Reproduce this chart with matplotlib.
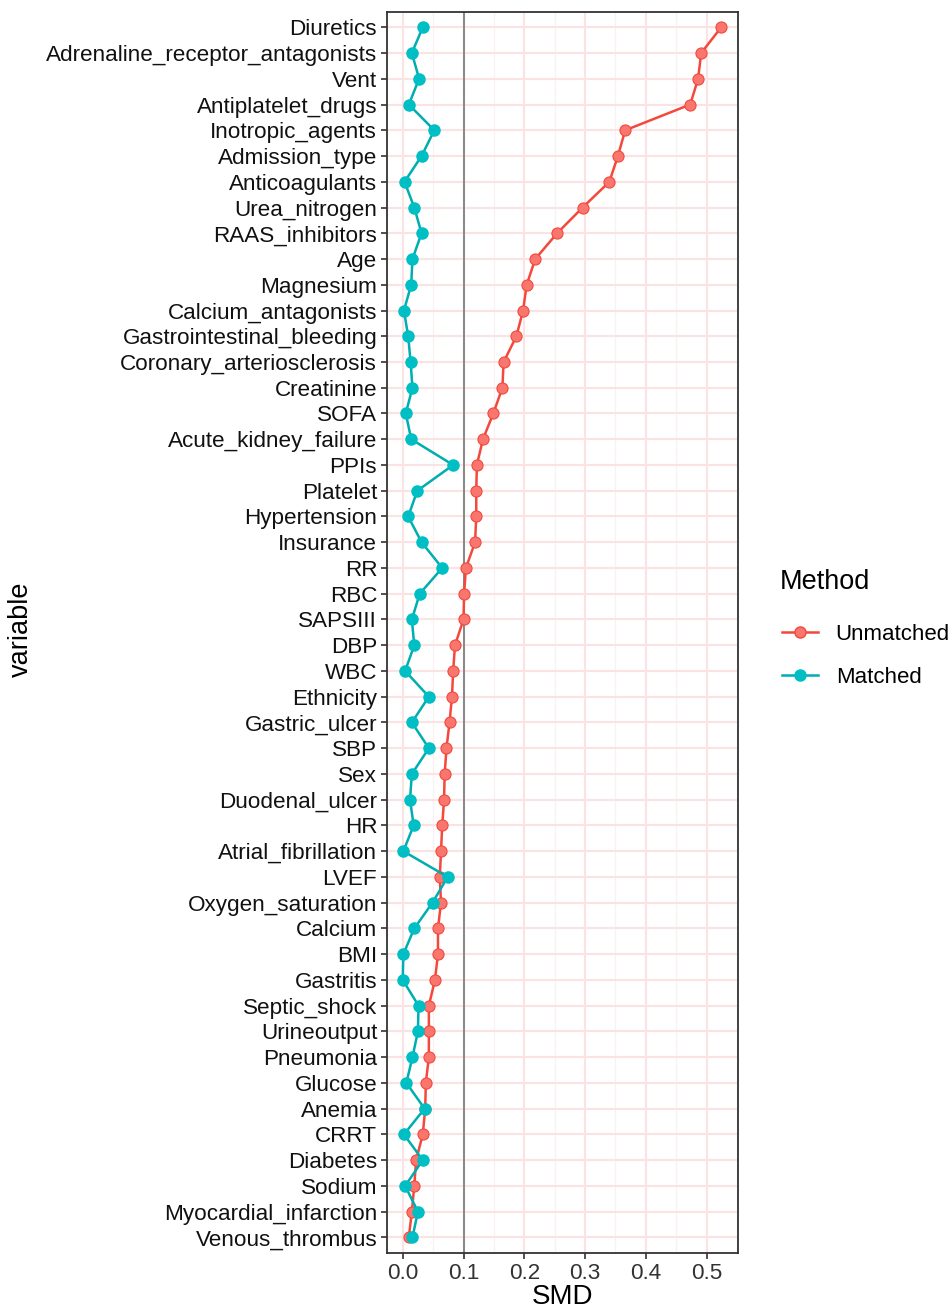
import matplotlib.pyplot as plt
from matplotlib.lines import Line2D
import numpy as np

plt.rcParams['font.family'] = ['Liberation Sans', 'DejaVu Sans']

# variables, top to bottom
variables = ["Diuretics", "Adrenaline_receptor_antagonists", "Vent", "Antiplatelet_drugs",
             "Inotropic_agents", "Admission_type", "Anticoagulants", "Urea_nitrogen",
             "RAAS_inhibitors", "Age", "Magnesium", "Calcium_antagonists",
             "Gastrointestinal_bleeding", "Coronary_arteriosclerosis", "Creatinine", "SOFA",
             "Acute_kidney_failure", "PPIs", "Platelet", "Hypertension", "Insurance", "RR",
             "RBC", "SAPSIII", "DBP", "WBC", "Ethnicity", "Gastric_ulcer", "SBP", "Sex",
             "Duodenal_ulcer", "HR", "Atrial_fibrillation", "LVEF", "Oxygen_saturation",
             "Calcium", "BMI", "Gastritis", "Septic_shock", "Urineoutput", "Pneumonia",
             "Glucose", "Anemia", "CRRT", "Diabetes", "Sodium", "Myocardial_infarction",
             "Venous_thrombus"]

unmatched = [0.524, 0.491, 0.486, 0.473, 0.366, 0.354, 0.340, 0.296, 0.254, 0.218,
             0.204, 0.198, 0.187, 0.166, 0.164, 0.149, 0.132, 0.122, 0.121, 0.121,
             0.119, 0.104, 0.101, 0.100, 0.086, 0.083, 0.081, 0.077, 0.072, 0.069,
             0.068, 0.065, 0.063, 0.061, 0.063, 0.058, 0.058, 0.053, 0.043, 0.043,
             0.043, 0.038, 0.037, 0.033, 0.022, 0.019, 0.015, 0.010]

matched = [0.033, 0.015, 0.027, 0.010, 0.052, 0.031, 0.003, 0.019, 0.031, 0.016,
           0.014, 0.002, 0.009, 0.013, 0.016, 0.005, 0.014, 0.083, 0.024, 0.009,
           0.031, 0.065, 0.028, 0.015, 0.019, 0.004, 0.043, 0.015, 0.043, 0.015,
           0.012, 0.018, 0.001, 0.074, 0.049, 0.019, 0.001, 0.000, 0.026, 0.025,
           0.016, 0.006, 0.036, 0.002, 0.033, 0.004, 0.025, 0.016]

red = '#F8766D'
red_line = '#F4483C'
teal = '#00BFC4'
teal_line = '#00ADB0'

fig = plt.figure(figsize=(9.53, 13.16), dpi=100)
ax = fig.add_axes([0.406, 0.048, 0.368, 0.943])

y = np.arange(len(variables))[::-1]

# grid
for v in np.arange(0, 0.56, 0.05):
    major = round(v * 100) % 10 == 0
    ax.axvline(v, color='#FBE3E3' if major else '#FDF0F0', lw=1.5 if major else 0.9, zorder=0)
for yy in y:
    ax.axhline(yy, color='#FBE3E3', lw=1.5, zorder=0)

ax.axvline(0.1, color='#7f7f7f', lw=1.3, zorder=1)

ax.plot(unmatched, y, color=red_line, lw=1.8, marker='o', ms=8, mfc=red, mec=red_line, mew=0.8, zorder=3)
ax.plot(matched, y, color=teal_line, lw=1.8, marker='o', ms=8, mfc=teal, mec=teal, zorder=4)

ax.set_xlim(-0.026, 0.551)
ax.set_ylim(-0.6, len(variables) - 0.4)
ax.set_yticks(y)
ax.set_yticklabels(variables, fontsize=16.2)
ax.set_xticks([0.0, 0.1, 0.2, 0.3, 0.4, 0.5])
ax.set_xticklabels(['0.0', '0.1', '0.2', '0.3', '0.4', '0.5'], fontsize=16.2, color='#333333')
ax.tick_params(axis='both', length=4, width=1.2, color='#333333', pad=3)
ax.tick_params(axis='y', labelcolor='#111111')
for s in ax.spines.values():
    s.set_color('#333333')
    s.set_linewidth(1.3)

ax.set_xlabel('SMD', fontsize=20, labelpad=0)
fig.text(0.022, 0.522, 'variable', rotation=90, fontsize=19.5, va='center', ha='center')

# legend
fig.text(0.8185, 0.5578, 'Method', fontsize=19.5, va='center', ha='left')
handles = [Line2D([0], [0], color=red_line, lw=1.8, marker='o', ms=8, mfc=red, mec=red_line),
           Line2D([0], [0], color=teal_line, lw=1.8, marker='o', ms=8, mfc=teal, mec=teal)]
leg = fig.legend(handles, ['Unmatched', 'Matched'],
                 loc='upper left', bbox_to_anchor=(0.8, 0.541), frameon=False,
                 fontsize=16, handlelength=1.6, labelspacing=1.0,
                 handletextpad=0.8)

fig.savefig('out.png', dpi=100)
